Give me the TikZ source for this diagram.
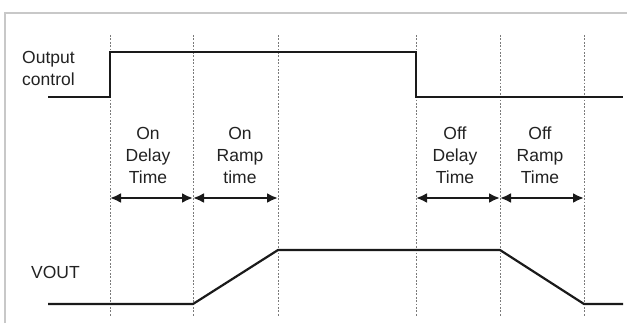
\documentclass[tikz,border=0pt]{standalone}
\usepackage{fontspec}
\setmainfont{Liberation Sans}
\usetikzlibrary{arrows.meta}
\definecolor{sig}{HTML}{1A1A1A}
\definecolor{txt}{HTML}{222222}
\definecolor{grid}{HTML}{7A7A7A}
\definecolor{frame}{HTML}{C8C8C8}
\begin{document}
\begin{tikzpicture}[x=1pt,y=-1pt,
  signal/.style={draw=sig,line width=2.2pt,line join=miter},
  guide/.style={draw=grid,line width=1pt,dash pattern=on 1.8pt off 1.6pt},
  span/.style={draw=sig,line width=2.8pt,{Latex[length=11pt,width=10pt]}-{Latex[length=11pt,width=10pt]}},
  lbl/.style={text=txt,font=\fontsize{17.5}{22}\selectfont,inner sep=0pt,align=center},
  framestyle/.style={draw=frame,line width=1.5pt}]
\useasboundingbox (0,0) rectangle (627,327);
% frame
\coordinate (f1) at (5,323);
\coordinate (f2) at (5,13);
\coordinate (f3) at (627,13);
\draw[framestyle] (f1) -- (f2) -- (f3);
% guide lines
\foreach \n/\x in {g1/110,g2/193,g3/278,g4/416,g5/500,g6/584}{
  \coordinate (\n t) at (\x,35);
  \coordinate (\n b) at (\x,317);
  \draw[guide] (\n t) -- (\n b);
}
% output control signal
\coordinate (c0) at (48,97);
\coordinate (c1) at (110,97);
\coordinate (c2) at (110,52);
\coordinate (c3) at (416,52);
\coordinate (c4) at (416,97);
\coordinate (c5) at (623,97);
\draw[signal] (c0) -- (c1) -- (c2) -- (c3) -- (c4) -- (c5);
% vout signal
\coordinate (v0) at (48,304);
\coordinate (v1) at (193,304);
\coordinate (v2) at (278,250);
\coordinate (v3) at (500,250);
\coordinate (v4) at (584,304);
\coordinate (v5) at (623,304);
\draw[signal] (v0) -- (v1) -- (v2) -- (v3) -- (v4) -- (v5);
% spans
\coordinate (a1) at (110,198);
\coordinate (a2) at (193,198);
\coordinate (a3) at (278,198);
\coordinate (a4) at (416,198);
\coordinate (a5) at (500,198);
\coordinate (a6) at (584,198);
\draw[span] (a1) -- (a2);
\draw[span] (a2) -- (a3);
\draw[span] (a4) -- (a5);
\draw[span] (a5) -- (a6);
% labels
\node[lbl,anchor=base west,align=left] (oc) at (22,85) {Output\\control};
\node[lbl,anchor=base west] (vout) at (31,278) {VOUT};
\node[lbl,anchor=base] (ond) at (148,183) {On\\Delay\\Time};
\node[lbl,anchor=base] (onr) at (240,183) {On\\Ramp\\time};
\node[lbl,anchor=base] (offd) at (455,183) {Off\\Delay\\Time};
\node[lbl,anchor=base] (offr) at (540,183) {Off\\Ramp\\Time};
\end{tikzpicture}
\end{document}
